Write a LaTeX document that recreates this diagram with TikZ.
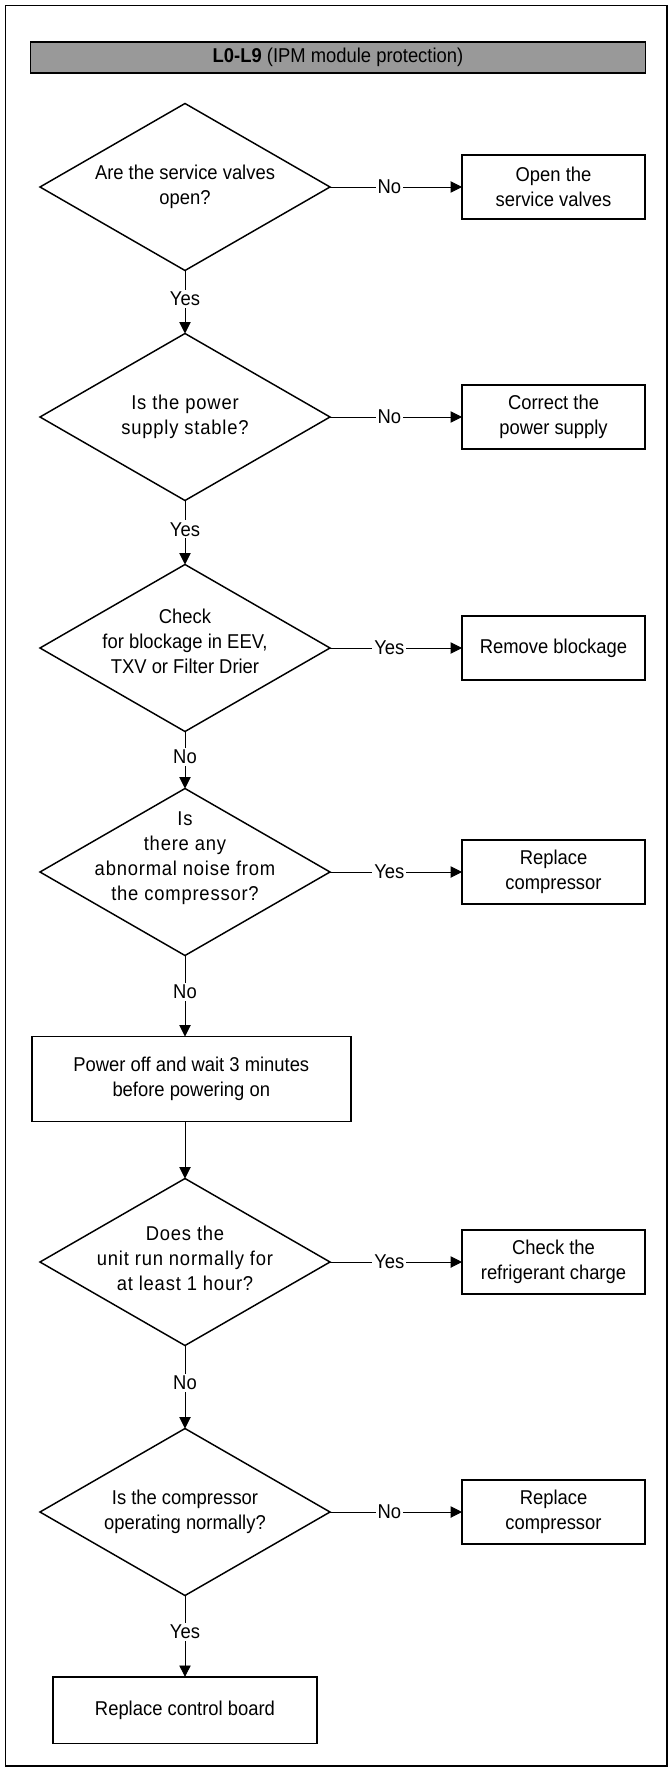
\documentclass[tikz,border=0pt]{standalone}
\usepackage{fontspec}
\setmainfont{Liberation Sans}[FakeStretch=0.92]
\usetikzlibrary{arrows.meta, positioning, shapes.geometric}

\begin{document}
\begin{tikzpicture}[
    every node/.style={font=\fontsize{15}{18.75}\selectfont},
    title/.style={rectangle, draw, line width=0.9pt, fill=black!40, minimum width=461.25pt, minimum height=23.25pt},
    decision/.style={diamond, draw, line width=1.1pt, outer sep=0pt, minimum width=217.5pt, minimum height=125.25pt, inner sep=0pt},
    qtext/.style={align=center, inner sep=0pt},
    wide/.style={font=\fontsize{15}{18.75}\selectfont\addfontfeature{LetterSpace=4}},
    action/.style={rectangle, draw, line width=1.2pt, outer sep=0pt, minimum width=137.25pt, minimum height=48pt, align=center},
    arrow/.style={-{Triangle[length=8.5pt, width=8.5pt]}, line width=0.7pt},
    answer/.style={fill=white, inner sep=1.5pt, pos=0.45},
]
    \useasboundingbox (0,0) rectangle (503.25pt,-1329pt);

    % Outer frame and title bar
    \draw[line width=1pt] (4.1pt,-4.1pt) rectangle (500.25pt,-1324.5pt);
    \node[title] (title) at (253.5pt,-43.1pt) {\textbf{L0-L9} (IPM module protection)};

    % Main column
    \node[decision, label={[qtext]center:{Are the service valves\\open?}}] (valves) at (138.75pt,-140.25pt) {};
    \node[decision, below=47.25pt of valves, label={[qtext, wide]center:{Is the power\\supply stable?}}] (power) {};
    \node[decision, below=48pt of power, label={[qtext, yshift=5pt]center:{Check\\for blockage in EEV,\\TXV or Filter Drier}}] (blockage) {};
    \node[decision, below=42.75pt of blockage, label={[qtext, wide, yshift=10pt]center:{Is\\there any\\abnormal noise from\\the compressor?}}] (noise) {};
    \node[action, minimum width=239.25pt, minimum height=63.75pt, below=60.75pt of noise, xshift=4.7pt] (restart) {Power off and wait 3 minutes\\before powering on};
    \node[decision, below=42.75pt of restart, xshift=-4.7pt, label={[qtext, wide, yshift=3pt]center:{Does the\\unit run normally for\\at least 1 hour?}}] (runtest) {};
    \node[decision, below=62.25pt of runtest, label={[qtext]center:{Is the compressor\\operating normally?}}] (compressor) {};
    \node[action, minimum width=198pt, minimum height=50pt, below=61pt of compressor] (board) {Replace control board};

    % Actions on the right
    \node[action, right=99pt of valves] (openvalves) {Open the\\service valves};
    \node[action, right=99pt of power] (fixpower) {Correct the\\power supply};
    \node[action, right=99pt of blockage] (unblock) {Remove blockage};
    \node[action, right=99pt of noise] (newcomp) {Replace\\compressor};
    \node[action, right=99pt of runtest] (charge) {Check the\\refrigerant charge};
    \node[action, right=99pt of compressor] (swapcomp) {Replace\\compressor};

    % Down the column
    \draw[arrow] (valves) -- (power) node[answer] {Yes};
    \draw[arrow] (power) -- (blockage) node[answer] {Yes};
    \draw[arrow] (blockage) -- (noise) node[answer] {No};
    \draw[arrow] (noise) -- (noise.south |- restart.north) node[answer] {No};
    \draw[arrow] (restart.south -| runtest) -- (runtest);
    \draw[arrow] (runtest) -- (compressor) node[answer] {No};
    \draw[arrow] (compressor) -- (board) node[answer] {Yes};

    % Branches to the right
    \draw[arrow] (valves) -- (openvalves) node[answer] {No};
    \draw[arrow] (power) -- (fixpower) node[answer] {No};
    \draw[arrow] (blockage) -- (unblock) node[answer] {Yes};
    \draw[arrow] (noise) -- (newcomp) node[answer] {Yes};
    \draw[arrow] (runtest) -- (charge) node[answer] {Yes};
    \draw[arrow] (compressor) -- (swapcomp) node[answer] {No};
\end{tikzpicture}
\end{document}
